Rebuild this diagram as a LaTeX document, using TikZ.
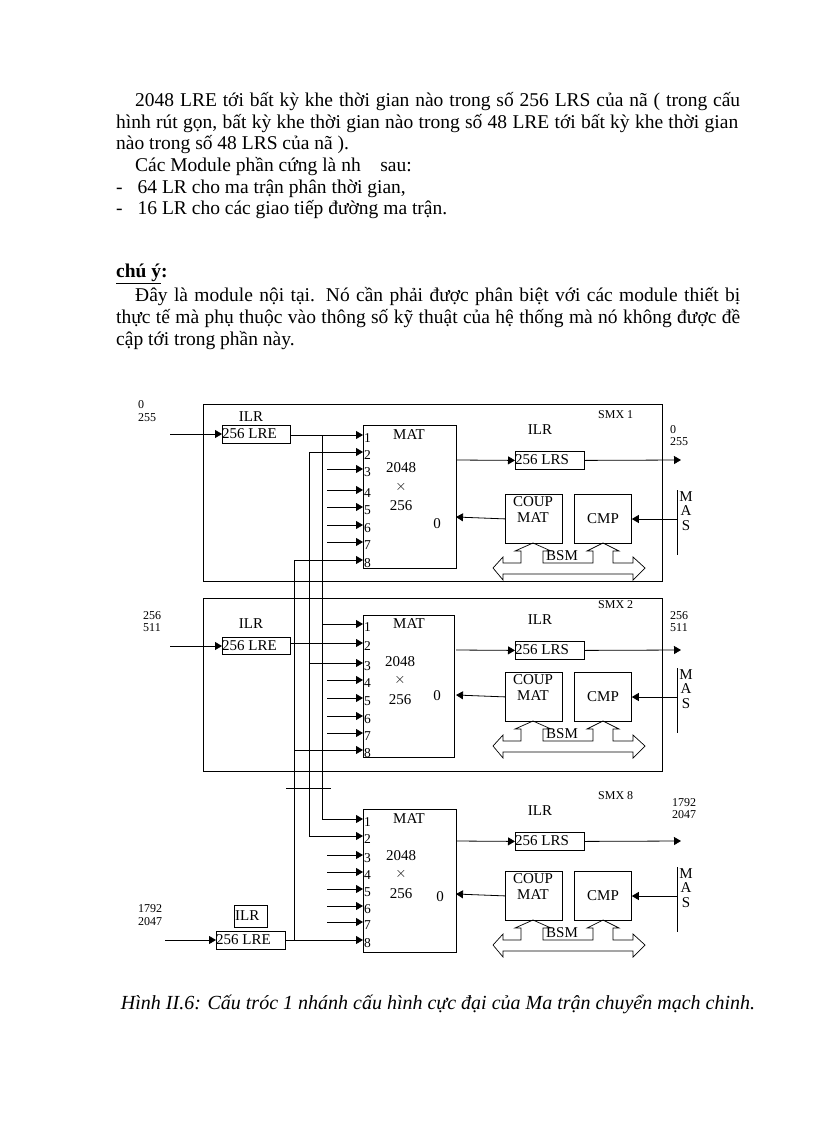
\documentclass[tikz,border=0pt]{standalone}
\usepackage{fontspec}
\setmainfont{Liberation Serif}
\usetikzlibrary{arrows.meta}
\begin{document}
\begin{tikzpicture}[x=1pt,y=-1pt,
  box/.style={draw,line width=0.8pt,inner sep=0pt,anchor=north west},
  lbl/.style={inner sep=0pt,font=\fontsize{15}{16}\selectfont},
  num/.style={inner sep=0pt,font=\fontsize{13.5}{14}\selectfont},
  sm/.style={inner sep=0pt,font=\fontsize{12}{13}\selectfont},
  arr/.style={line width=0.8pt,-{Triangle[length=7pt,width=8pt]}},
  ln/.style={line width=0.8pt},
  body/.style={inner sep=0pt,anchor=west,font=\fontsize{19.5}{22}\selectfont}]
\useasboundingbox (0,0) rectangle (816,1123);
% ---- text ----
\node[body] (l1) at (135,102) {\makebox[605pt][s]{2048 LRE tới bất kỳ khe thời gian nào trong số 256 LRS của nã ( trong cấu}};
\node[body] (l2) at (116,124) {\makebox[622pt][s]{hình rút gọn, bất kỳ khe thời gian nào trong số 48 LRE tới bất kỳ khe thời gian}};
\node[body] (l3) at (116,145) {nào trong số 48 LRS của nã ).};
\node[body] (p2) at (135,167) {Các Module phần cứng là nh\quad sau:};
\node[body] (d1) at (116,189) {-\hspace{15pt}64 LR cho ma trận phân thời gian,};
\node[body] (d2) at (116,210) {-\hspace{15pt}16 LR cho các giao tiếp đường ma trận.};
\node[body,font=\fontsize{19.5}{22}\selectfont\bfseries] (cy) at (116,274) {\underline{chú ý}:};
\node[body] (l4) at (135,297) {\makebox[605pt][s]{Đây là module nội tại. Nó cần phải được phân biệt với các module thiết bị}};
\node[body] (l5) at (116,319) {\makebox[624pt][s]{thực tế mà phụ thuộc vào thông số kỹ thuật của hệ thống mà nó không được đề}};
\node[body] (l6) at (116,341) {cập tới trong phần này.};
\node[inner sep=0pt,font=\fontsize{20}{22}\selectfont\itshape] (cap) at (438,1004) {Hình II.6: Cấu tróc 1 nhánh cấu hình cực đại của Ma trận chuyển mạch chinh.};
% ---- SMX frames ----
\node[box,minimum width=459pt,minimum height=177pt] (smx1) at (203,404) {};
\node[box,minimum width=459pt,minimum height=173pt] (smx2) at (203,598) {};
% ---- MATs ----
\node[box,minimum width=93pt,minimum height=143pt] (mat1) at (363,425) {};
\node[box,minimum width=91pt,minimum height=142pt] (mat2) at (363,615) {};
\node[box,minimum width=93pt,minimum height=143pt] (mat3) at (363,809) {};
\foreach \m/\ya/\yb/\yc/\yd/\ye/\zx/\zy in {1/435/468/487/506/401/437/524, 2/624/662/680/700/400/437/696, 3/819/856/874/894/401/440/897}{
  \node[lbl] at (409,\ya) {MAT};
  \node[lbl] at (\ye,\yb) {2048};
  \node[lbl] at (\ye,\yc) {$\times$};
  \node[lbl] at (\ye,\yd) {256};
  \node[lbl] at (\zx,\zy) {0};
}
% input ports
\foreach \m/\ys in {1/{435,452,469,490,507,525,542,560}, 2/{624,643,663,680,698,716,733,750}, 3/{819,836,855,872,889,906,922,940}}{
  \foreach \y [count=\k] in \ys {
    \coordinate (in\m-\k) at (363,\y);
    \node[num,anchor=west] at (364,\y+3) {\k};
  }
}
% stub inputs
\foreach \m/\ks in {1/{3,4,5,6,7}, 2/{4,5,6,7}, 3/{3,4,5,6,7}}{
  \foreach \k in \ks { \draw[arr] ([xshift=-36pt]in\m-\k) -- (in\m-\k); }
}
% ILR inputs
\node[box,minimum width=68pt,minimum height=18pt] (lre1) at (222,425) {};
\node[lbl,anchor=west] at (222,434) {256 LRE};
\node[lbl] at (251,417) {ILR};
\node[box,minimum width=68pt,minimum height=17pt] (lre2) at (222,637) {};
\node[lbl,anchor=west] at (222,646) {256 LRE};
\node[lbl] at (251,624) {ILR};
\node[box,minimum width=69pt,minimum height=18pt] (lre3) at (216,931) {};
\node[lbl,anchor=west] at (216,940) {256 LRE};
\node[box,minimum width=33pt,minimum height=22pt] (ilr3) at (234,905) {};
\node[lbl,anchor=west] at (235,916) {ILR};
\coordinate (src1) at (170,434); \coordinate (src2) at (170,646); \coordinate (src3) at (165,940);
\draw[arr] (src1) -- (lre1.west|-src1);
\draw[arr] (src2) -- (lre2.west|-src2);
\draw[arr] (src3) -- (lre3.west|-src3);
\node[sm,anchor=west] at (138,405) {0};
\node[sm,anchor=west] at (138,418) {255};
\node[sm,anchor=west] at (143,616) {256};
\node[sm,anchor=west] at (143,628) {511};
\node[sm,anchor=west] at (138,909) {1792};
\node[sm,anchor=west] at (138,922) {2047};
% main connections
\draw[arr] (lre1.east|-in1-1) -- (in1-1);
\draw[arr] (lre2.east|-in2-2) -- (in2-2);
\draw[arr] (lre3.east|-in3-8) -- (in3-8);
% buses
\draw[ln] (322,435) -- (322,819);
\draw[arr] (322,819) -- (in3-1);
\draw[arr] (322,624) -- (in2-1);
\draw[ln] (309,452) -- (309,836);
\draw[arr] (309,452) -- (in1-2);
\draw[arr] (309,836) -- (in3-2);
\draw[arr] (309,663) -- (in2-3);
\draw[ln] (294,560) -- (294,940);
\draw[arr] (294,560) -- (in1-8);
\draw[arr] (294,750) -- (in2-8);
\draw[ln] (286,788) -- (331,788);
% right blocks
\foreach \b/\ly/\dy/\smx/\oa/\ob/\oy/\ox in {1/460/0/SMX 1/0/255/430/670, 2/650/178/SMX 2/256/511/616/670, 3/841/377/SMX 8/1792/2047/803/672}{
  \node[box,minimum width=69pt,minimum height=18pt] (lrs\b) at (515,\ly-9) {};
  \node[lbl,anchor=west] at (515,\ly) {256 LRS};
  \node[lbl] at (540,\ly-30) {ILR};
  \node[sm,anchor=west] at (598,\ly-45) {\smx};
  \node[sm,anchor=west] at (\ox,\oy) {\oa};
  \node[sm,anchor=west] at (\ox,\oy+12) {\ob};
  \draw[arr] (456,\ly) -- (lrs\b.west);
  \coordinate (out\b) at (681,\ly);
  \draw[arr] (lrs\b.east) -- (out\b);
  \node[box,minimum width=57pt,minimum height=49pt] (coup\b) at (505,494+\dy) {};
  \node[lbl,align=center] at (533,510+\dy) {COUP\\MAT};
  \node[box,minimum width=57pt,minimum height=49pt] (cmp\b) at (574,494+\dy) {};
  \node[lbl] at (603,519+\dy) {CMP};
  \draw[arr] (coup\b.west) -- (456,517+\dy);
  \draw[ln] (677,490+\dy) -- (677,555+\dy);
  \node[lbl] at (686,497+\dy) {M};
  \node[lbl] at (686,511+\dy) {A};
  \node[lbl] at (686,526+\dy) {S};
  \draw[arr] (677,519+\dy) -- (cmp\b.east|-0,519+\dy);
  \begin{scope}[yshift=-\dy]
  \draw[line width=0.7pt] (493,568) -- (503,557) -- (503,563) -- (521,563) -- (521,551) -- (515,551) -- (533,543) -- (551,551) -- (543,551) -- (543,563) -- (593,563) -- (593,551) -- (587,551) -- (603,543) -- (619,551) -- (613,551) -- (613,563) -- (633,563) -- (633,557) -- (645,568) -- (633,580) -- (633,574) -- (503,574) -- (503,580) -- cycle;
  \node[lbl] at (562,556) {BSM};
  \end{scope}
}
\end{tikzpicture}
\end{document}
